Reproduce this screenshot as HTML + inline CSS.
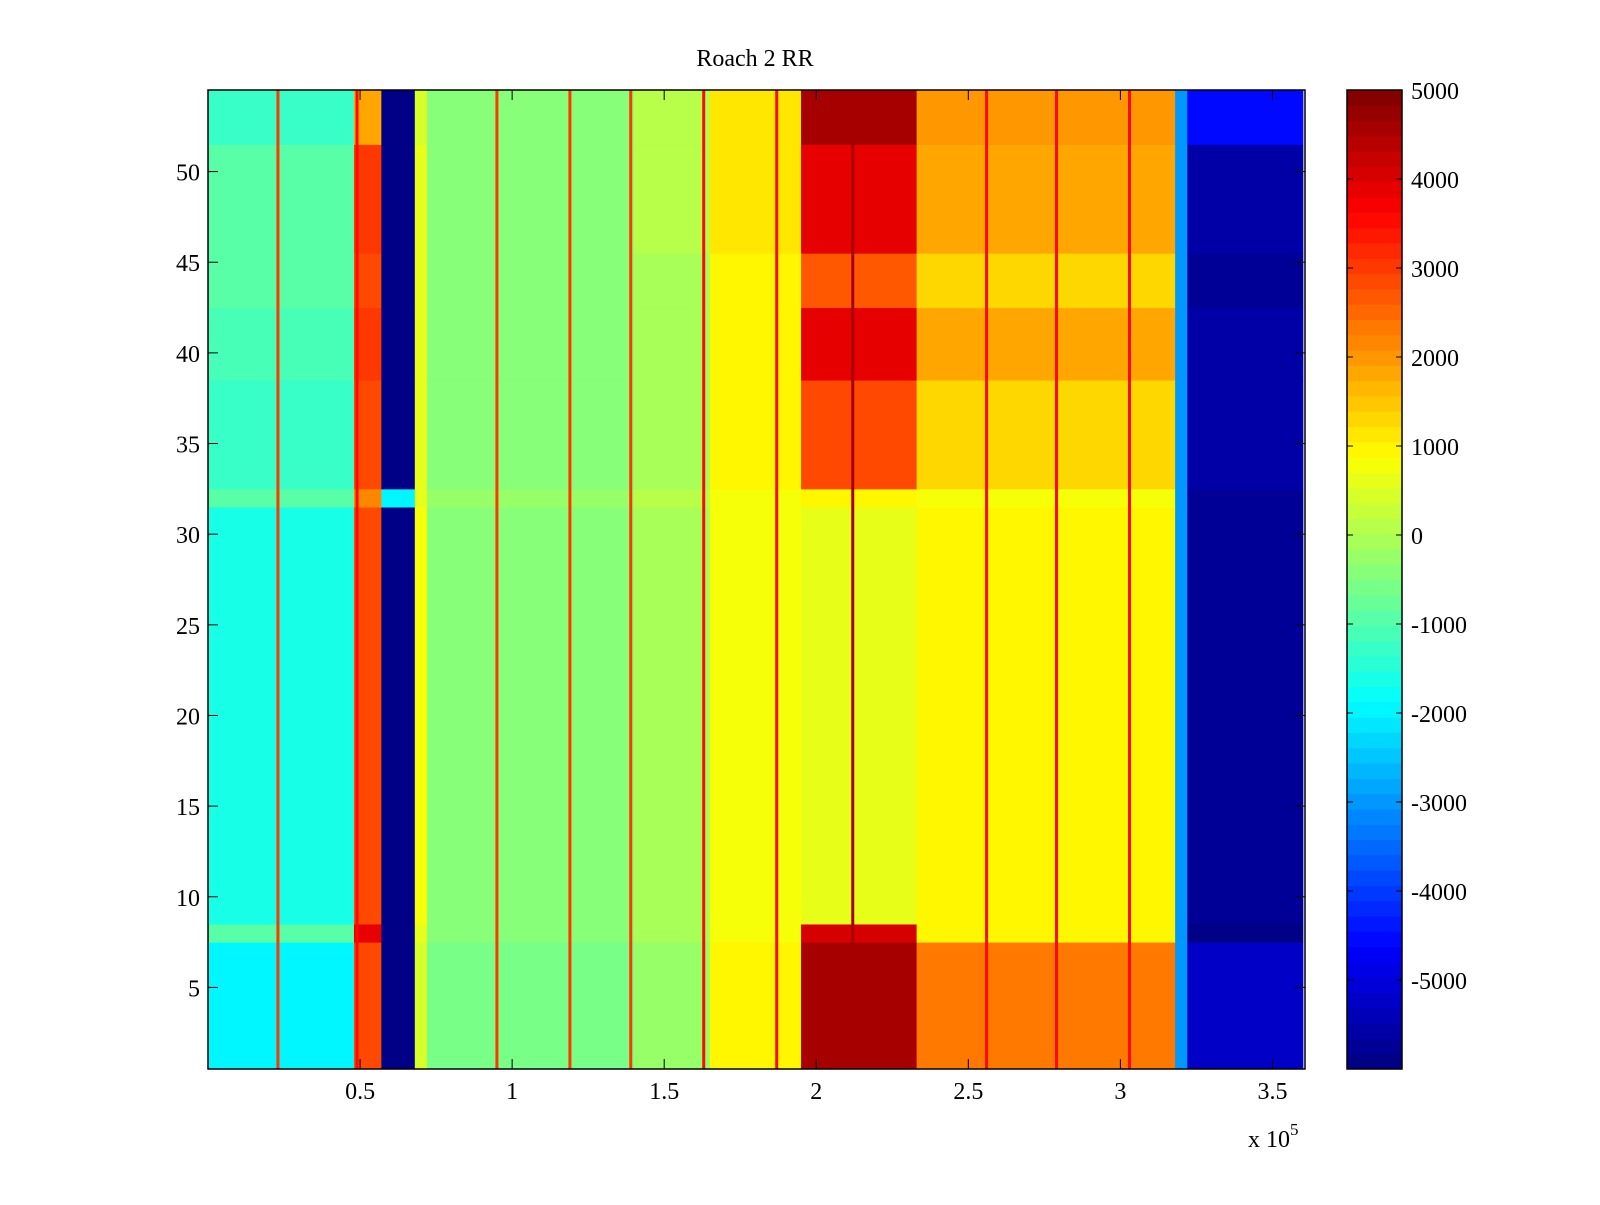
<!DOCTYPE html>
<html><head><meta charset="utf-8"><style>
html,body{margin:0;padding:0;background:#fff;}
svg text{font-family:"Liberation Serif",serif;font-size:24px;fill:#000;}
</style></head><body>
<svg id="chart" width="1600" height="1200" viewBox="0 0 1600 1200" xmlns="http://www.w3.org/2000/svg">
<rect width="1600" height="1200" fill="#fff"/>
<text x="755" y="66" text-anchor="middle">Roach 2 RR</text>
<g id="cells"></g>
<g id="axes"></g>
<g id="cbar"></g>
<text x="1248" y="1147">x 10<tspan dy="-12" font-size="17">5</tspan></text>
</svg>
<script>
// Data arrays
const rowEdges = [0.5, 7.5, 8.5, 31.5, 32.5, 38.5, 42.5, 45.5, 51.5, 54.5];
const colEdges = [0, 0.48, 0.57, 0.68, 0.72, 1.4, 1.65, 1.95, 2.33, 3.18, 3.22, 3.6];
const bandValues = [
 [-2000, 2800, -6000, 500, -600, -200, 900, 4500, 2300, -3000, -5200],
 [-1000, 3800, -6000, 700, -500, -100, 800, 4000, 900, -3000, -6000],
 [-1700, 2800, -6000, 800, -400, 0, 800, 600, 900, -3000, -5800],
 [-1000, 2200, -2000, 700, -200, 100, 800, 900, 800, -3000, -5800],
 [-1300, 2900, -6000, 600, -400, 0, 900, 2900, 1300, -3000, -5600],
 [-1100, 3000, -6000, 600, -400, 0, 1000, 3900, 1800, -3000, -5500],
 [-1000, 2900, -6000, 600, -400, 0, 1000, 2700, 1300, -3000, -5800],
 [-1000, 3000, -6000, 600, -400, 100, 1100, 3800, 1800, -3000, -5500],
 [-1200, 1800, -6000, 500, -500, 100, 1200, 4600, 2000, -3000, -4500]
];
const lineX = [0.23, 0.49, 0.95, 1.19, 1.39, 1.63, 1.87, 2.12, 2.56, 2.79, 3.03];
const lineValue = [3000, 3500, 3000, 3000, 3000, 3500, 3500, 4500, 3500, 3500, 3500];
const xTicks = [0.5, 1, 1.5, 2, 2.5, 3, 3.5];
const yTicks = [5, 10, 15, 20, 25, 30, 35, 40, 45, 50];
const cTicks = [5000, 4000, 3000, 2000, 1000, 0, -1000, -2000, -3000, -4000, -5000];
const cMin = -6000, cMax = 5000;

const L = 208, R = 1305, T = 90, B = 1069;
const xMin = 0, xMax = 3.607, yMin = 0.5, yMax = 54.5;
const sx = v => L + (v - xMin) / (xMax - xMin) * (R - L);
const sy = v => B - (v - yMin) / (yMax - yMin) * (B - T);
const CL = 1347, CR = 1402;
const sc = v => B - (v - cMin) / (cMax - cMin) * (B - T);

function jet(v) {
  let t = (v - cMin) / (cMax - cMin);
  t = Math.max(0, Math.min(0.9999, t));
  t = (Math.floor(t * 64) + 0.5) / 64;
  const f = x => Math.max(0, Math.min(1, x));
  const r = f(1.5 - Math.abs(4 * t - 3));
  const g = f(1.5 - Math.abs(4 * t - 2));
  const b = f(1.5 - Math.abs(4 * t - 1));
  return `rgb(${Math.round(r*255)},${Math.round(g*255)},${Math.round(b*255)})`;
}
const NS = "http://www.w3.org/2000/svg";
function mk(tag, attrs, parent) {
  const e = document.createElementNS(NS, tag);
  for (const k in attrs) e.setAttribute(k, attrs[k]);
  parent.appendChild(e);
  return e;
}
const cells = document.getElementById('cells');
for (let i = 0; i < rowEdges.length - 1; i++) {
  for (let j = 0; j < colEdges.length - 1; j++) {
    const x0 = sx(colEdges[j]), x1 = Math.min(R, sx(colEdges[j+1]));
    const y0 = sy(rowEdges[i+1]), y1 = sy(rowEdges[i]);
    const r = mk('rect', {x: x0, y: y0, width: x1 - x0 + 0.5, height: y1 - y0 + 0.5, fill: jet(bandValues[i][j])}, cells);
    
    
  }
}
for (let k = 0; k < lineX.length; k++) {
  const r = mk('rect', {x: sx(lineX[k]) - 1.5, y: T, width: 3, height: B - T, fill: jet(lineValue[k])}, cells);
  
  
}
const axes = document.getElementById('axes');
mk('rect', {x: L, y: T, width: R - L, height: B - T, fill: 'none', stroke: '#000', 'stroke-width': 1.5}, axes);
xTicks.forEach(v => {
  const x = sx(v);
  mk('line', {x1: x, x2: x, y1: B, y2: B - 10, stroke: '#000'}, axes);
  mk('line', {x1: x, x2: x, y1: T, y2: T + 10, stroke: '#000'}, axes);
  const t = mk('text', {x: x, y: 1099, 'text-anchor': 'middle'}, axes);
  t.textContent = v;
  
  
});
yTicks.forEach(v => {
  const y = sy(v);
  mk('line', {x1: L, x2: L + 10, y1: y, y2: y, stroke: '#000'}, axes);
  mk('line', {x1: R, x2: R - 10, y1: y, y2: y, stroke: '#000'}, axes);
  const t = mk('text', {x: 200, y: y + 9, 'text-anchor': 'end'}, axes);
  t.textContent = v;
  
  
});
const cbar = document.getElementById('cbar');
for (let k = 0; k < 64; k++) {
  const v0 = cMin + (cMax - cMin) * k / 64, v1 = cMin + (cMax - cMin) * (k + 1) / 64;
  mk('rect', {x: CL, y: sc(v1), width: CR - CL, height: sc(v0) - sc(v1) + 0.5, fill: jet((v0 + v1) / 2)}, cbar);
}
mk('rect', {x: CL, y: T, width: CR - CL, height: B - T, fill: 'none', stroke: '#000', 'stroke-width': 1.5}, cbar);
cTicks.forEach(v => {
  const y = sc(v);
  mk('line', {x1: CL, x2: CL + 6, y1: y, y2: y, stroke: '#000'}, cbar);
  mk('line', {x1: CR, x2: CR - 6, y1: y, y2: y, stroke: '#000'}, cbar);
  const t = mk('text', {x: 1411, y: y + 9}, cbar);
  t.textContent = v;
  
  
});
</script>
</body></html>
